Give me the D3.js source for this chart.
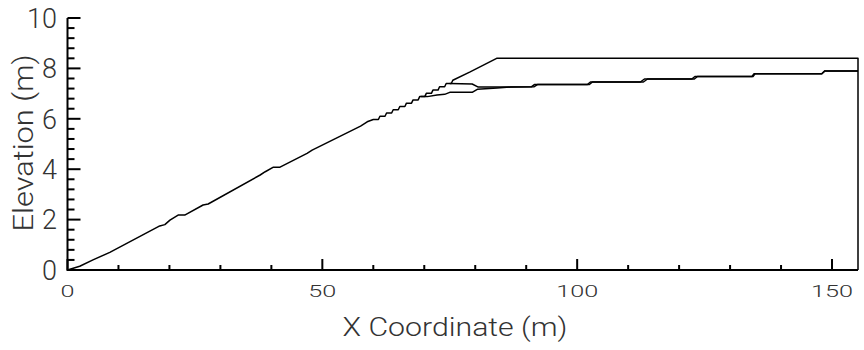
<!DOCTYPE html>
<html>
<head>
<meta charset="utf-8">
<script src="https://cdn.jsdelivr.net/npm/d3@7"></script>
<style>
	body { margin:0; background:#fff; }
	svg text { font-family: Roboto, "DejaVu Sans", sans-serif; font-weight:300; fill:#333; }
</style>
</head>
<body>
<div id="chart"></div>
<script>
// ground surface (slope, crest, right boundary)
const surface = [
	[0,0],[2.4,0.15],[5,0.4],[8.3,0.7],[18.1,1.75],[19.1,1.8],[20.1,1.98],[21.7,2.18],[23,2.18],
	[26.6,2.58],[27.6,2.62],[37.8,3.77],[38.8,3.9],[40.4,4.08],[41.7,4.08],[47,4.63],[48,4.76],
	[57.5,5.71],[58.8,5.88],[60,5.97],[61,5.97],[61.3,6.1],[62.3,6.1],[62.6,6.23],[63.6,6.23],
	[63.9,6.36],[64.9,6.36],[65.2,6.49],[66.2,6.49],[66.5,6.62],[67.5,6.62],[67.8,6.75],[68.8,6.75],
	[69.1,6.88],[70.1,6.88],[70.4,7.01],[71.4,7.01],[71.7,7.14],[72.7,7.14],[73,7.27],[74,7.27],
	[74.3,7.4],[75.3,7.4],[75.6,7.53],[79,7.86],[84.2,8.4],[155.1,8.4],[155.1,0]
];

// upper inner profile
const profileA = [
	[75,7.4],[79.4,7.38],[80.6,7.26],[91,7.27],[91.6,7.36],[102,7.36],[102.6,7.46],[112.4,7.46],
	[113.2,7.58],[122.5,7.58],[123.1,7.68],[134.3,7.68],[134.7,7.79],[148,7.79],[148.6,7.9],[155.1,7.9]
];

// lower inner profile
const profileB = [
	[69.3,6.88],[70.6,6.88],[72.5,6.94],[74,6.97],[75,7.05],[79.4,7.05],[80.4,7.17],[84.3,7.22],
	[87,7.26],[91.5,7.27],[92.2,7.36],[102.4,7.36],[103,7.46],[113,7.46],[113.8,7.58],[123,7.58],
	[123.6,7.68],[134.5,7.68],[134.9,7.79],[148,7.79],[148.6,7.9],[155.1,7.9]
];

const xMajor = [0,50,100,150];
const xMinor = d3.range(10,156,10).filter(v => v % 50);
const yMajor = [0,2,4,6,8,10];
const yMinor = d3.range(1,25).map(i => i*0.4).filter(v => Math.abs(v/2 - Math.round(v/2)) > 0.01);

const width = 864, height = 350;

const x = d3.scaleLinear().domain([0,155.1]).range([67.5,858]);
const y = d3.scaleLinear().domain([0,10]).range([270,18]);

const svg = d3.select('#chart').append('svg')
	.attr('width',width)
	.attr('height',height);

// axis lines
svg.append('path')
	.attr('d',`M${x(0)},${y(10)}V${y(0)}H${x(155.1)}`)
	.attr('fill','none')
	.attr('stroke','#000')
	.attr('stroke-width',2);

// tick labels
svg.selectAll('.xl').data(xMajor)
	.join('text')
	.attr('class','xl')
	.attr('x',d => x(d))
	.attr('y',297)
	.attr('text-anchor','middle')
	.attr('textLength',d => String(d).length*14)
	.attr('lengthAdjust','spacingAndGlyphs')
	.style('font-size','17px')
	.text(d => d);

svg.selectAll('.yl').data(yMajor)
	.join('text')
	.attr('class','yl')
	.attr('x',57)
	.attr('y',d => y(d))
	.attr('dy','0.36em')
	.attr('text-anchor','end')
	.style('font-size','27px')
	.text(d => d);

// axis titles
svg.append('text')
	.attr('x',455)
	.attr('y',336)
	.attr('text-anchor','middle')
	.attr('textLength',225)
	.attr('lengthAdjust','spacingAndGlyphs')
	.style('font-size','25px')
	.text('X Coordinate (m)');

svg.append('text')
	.attr('transform','translate(33,143) rotate(-90)')
	.attr('text-anchor','middle')
	.attr('textLength',177)
	.attr('lengthAdjust','spacingAndGlyphs')
	.style('font-size','27px')
	.text('Elevation (m)');

const line = d3.line().x(d => x(d[0])).y(d => y(d[1]));

[profileB, profileA, surface].forEach(data => {
	svg.append('path')
		.datum(data)
		.attr('d',line)
		.attr('fill','none')
		.attr('stroke','#000')
		.attr('stroke-width',1.5)
		.attr('stroke-linejoin','round');
});

// inward tick marks as small filled rects, on top
const xTicks = xMajor.map(v => [v,11]).concat(xMinor.map(v => [v,5]));
const yTicks = yMajor.map(v => [v,13]).concat(yMinor.map(v => [v,7]));

svg.append('g').attr('class','xticks')
	.selectAll('rect').data(xTicks)
	.join('rect')
	.attr('x',d => x(d[0]) - 1)
	.attr('y',d => y(0) - d[1])
	.attr('width',2)
	.attr('height',d => d[1])
	.attr('fill','#000');

svg.append('g').attr('class','yticks')
	.selectAll('rect').data(yTicks)
	.join('rect')
	.attr('x',x(0))
	.attr('y',d => y(d[0]) - 1)
	.attr('width',d => d[1])
	.attr('height',2)
	.attr('fill','#000');
</script>
</body>
</html>
